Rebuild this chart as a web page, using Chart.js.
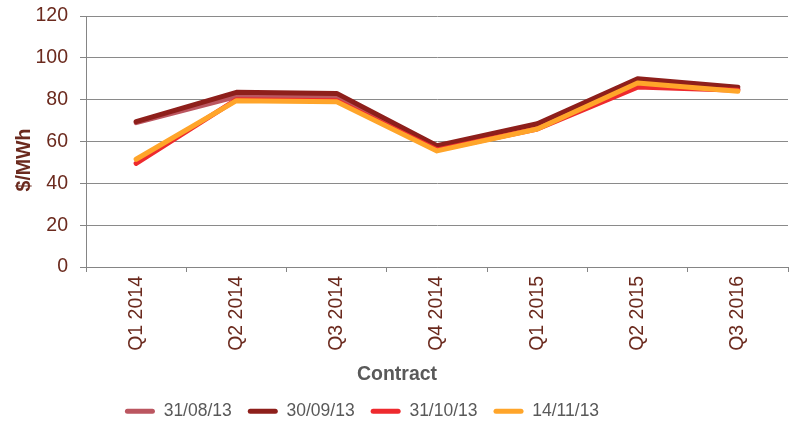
<!DOCTYPE html>
<html>
<head>
<meta charset="utf-8">
<script src="https://cdn.jsdelivr.net/npm/chart.js@4.4.1/dist/chart.umd.min.js"></script>
<style>
  html, body { margin: 0; padding: 0; background: #fff; }
  canvas { display: block; }
</style>
</head>
<body>
<canvas id="chart" width="792" height="422"></canvas>
<script>
// contract quarters on the x axis
var contracts = ["Q1 2014", "Q2 2014", "Q3 2014", "Q4 2014", "Q1 2015", "Q2 2015", "Q3 2016"];

// $/MWh, one array per trading date
var aug31 = [69, 81.5, 81, 57, 68, 89, 85];
var sep30 = [69.5, 83.5, 83, 58, 68.5, 90, 86];
var oct31 = [49.5, 80, 79.5, 56, 66, 86, 84.5];
var nov14 = [51.5, 79.5, 79, 55.5, 66, 88, 84];

var seriesNames = ["31/08/13", "30/09/13", "31/10/13", "14/11/13"];
var seriesColors = ["#bb5660", "#8e1f1b", "#ee2a2e", "#ffa52a"];

var yTicks = [0, 20, 40, 60, 80, 100, 120];

var FONT = '"Liberation Sans", Arial, sans-serif';
var BROWN = "#6b2a1e";
var GREY = "#595959";
var PLOT_BOTTOM = 267;

function makeSet(i, values) {
    return {
        label: seriesNames[i],
        data: values,
        borderColor: seriesColors[i],
        backgroundColor: seriesColors[i],
        borderWidth: 5,
        borderCapStyle: "round",
        borderJoinStyle: "round",
        pointRadius: 0,
        tension: 0,
        order: 4 - i   // later series drawn on top, like the original
    };
}

// axis titles sit off-centre in the original, so draw them by hand
var axisTitles = {
    id: "axisTitles",
    afterLayout: function(chart) {
        // legend is centred on the left part of the picture
        var lg = chart.legend;
        var dy = 413 - (lg.top + 16 + 10.5);
        lg.left -= 32; lg.right -= 32;
        lg.top += dy; lg.bottom += dy;
    },
    afterDraw: function(chart) {
        var ctx = chart.ctx;
        ctx.save();
        ctx.font = "bold 19.5px " + FONT;
        ctx.textAlign = "center";
        ctx.textBaseline = "middle";
        ctx.fillStyle = GREY;
        ctx.fillText("Contract", 397, 375);
        ctx.translate(25, 160);
        ctx.rotate(-Math.PI / 2);
        ctx.fillStyle = BROWN;
        ctx.fillText("$/MWh", 0, 0);
        ctx.restore();
    }
};

new Chart(document.getElementById("chart"), {
    type: "line",
    data: {
        labels: contracts,
        datasets: [makeSet(0, aug31), makeSet(1, sep30), makeSet(2, oct31), makeSet(3, nov14)]
    },
    options: {
        responsive: false,
        animation: false,
        layout: { padding: { top: 16, right: 4, left: 0, bottom: 0 } },
        plugins: {
            tooltip: { enabled: false },
            legend: {
                position: "bottom",
                labels: {
                    color: GREY,
                    font: { family: FONT, size: 17.5 },
                    boxWidth: 30,
                    boxHeight: 5,
                    padding: 16,
                    generateLabels: function(chart) {
                        return chart.data.datasets.map(function(ds, i) {
                            return {
                                text: ds.label,
                                fillStyle: ds.borderColor,
                                strokeStyle: ds.borderColor,
                                lineWidth: 0,
                                borderRadius: 2.5,
                                fontColor: GREY,
                                datasetIndex: i
                            };
                        });
                    }
                }
            }
        },
        scales: {
            x: {
                offset: true,
                border: { display: true, color: "#858585", width: 1 },
                grid: { offset: true, drawOnChartArea: false, tickLength: 5, color: "#858585" },
                ticks: {
                    color: BROWN,
                    font: { family: FONT, size: 19.5 },
                    minRotation: 90,
                    maxRotation: 90,
                    padding: 4,
                    autoSkip: false
                },
                afterFit: function(s) {
                    s.height = 422 - s.chart.legend.height - PLOT_BOTTOM;
                    s.paddingLeft = 0; s.paddingRight = 0;
                }
            },
            y: {
                min: 0,
                max: 120,
                afterBuildTicks: function(s) {
                    s.ticks = yTicks.map(function(v) { return { value: v }; });
                },
                border: { display: true, color: "#858585", width: 1 },
                grid: {
                    color: "#8a8a8a",
                    borderDash: [4, 2],
                    tickBorderDash: [],
                    tickColor: "#858585",
                    tickLength: 6
                },
                ticks: {
                    color: BROWN,
                    font: { family: FONT, size: 19.5 },
                    padding: 12
                },
                afterFit: function(s) {
                    s.width = 86;
                    s.paddingTop = 0; s.paddingBottom = 0;
                }
            }
        }
    },
    plugins: [axisTitles]
});
</script>
</body>
</html>
